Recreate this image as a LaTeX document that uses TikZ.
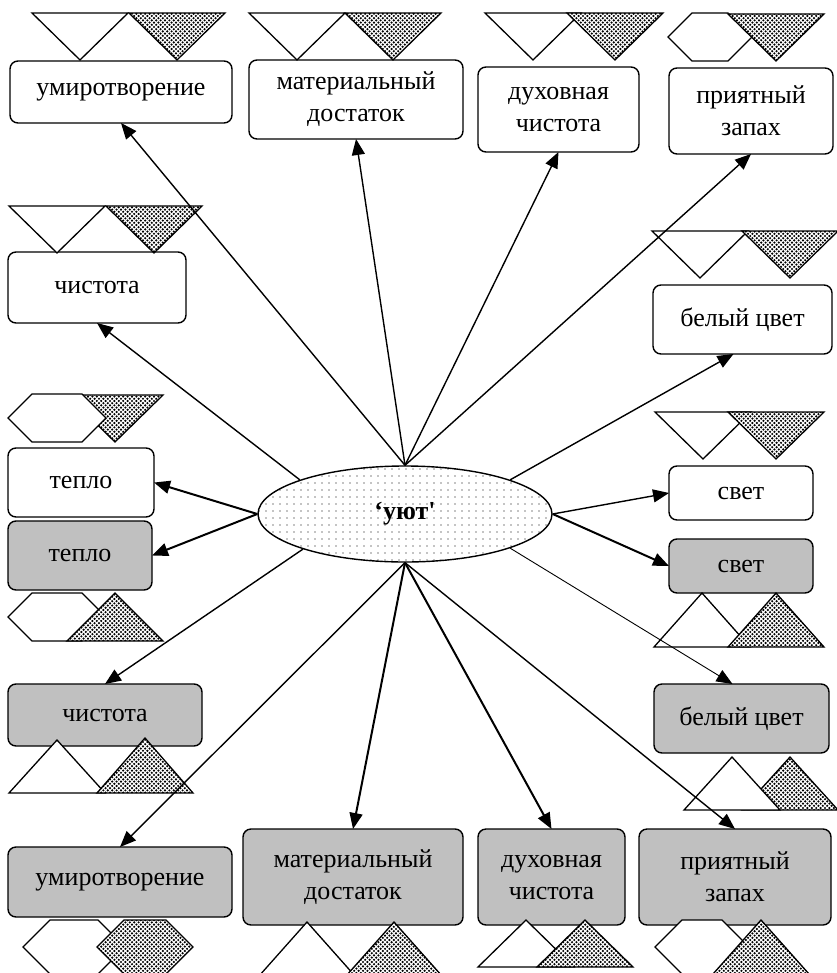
\documentclass[tikz,border=0pt]{standalone}
\usepackage{fontspec}
\setmainfont{Liberation Serif}
\usetikzlibrary{arrows.meta,shapes.geometric,patterns}

\definecolor{boxgray}{RGB}{192,192,192}

% fine dots for the ellipse, thick dots for the marks
\pgfdeclarepatternformonly{sparsedots}{\pgfqpoint{-1pt}{-1pt}}{\pgfqpoint{1pt}{1pt}}{\pgfqpoint{3.5pt}{3.5pt}}%
{\pgfpathcircle{\pgfpointorigin}{0.35pt}\pgfusepath{fill}}
\pgfdeclarepatternformonly{densedots}{\pgfqpoint{-1pt}{-1pt}}{\pgfqpoint{2.2pt}{2.2pt}}{\pgfqpoint{2.2pt}{2.2pt}}%
{\pgfpathcircle{\pgfpointorigin}{0.6pt}\pgfpathcircle{\pgfqpoint{1.1pt}{1.1pt}}{0.6pt}\pgfusepath{fill}}

\tikzset{wbox/.style={draw, fill=white, rounded corners=4pt, line width=0.7pt, align=center,
  inner sep=0pt, outer sep=0pt, font=\fontsize{13}{16}\selectfont},
gbox/.style={wbox, fill=boxgray},
blank/.style={draw, fill=white, line width=0.65pt},
speckle/.style={draw, line width=0.65pt, preaction={fill=white}, pattern=densedots},
link/.style={line width=0.7pt},
thicklink/.style={line width=1pt},
thinlink/.style={line width=0.45pt}}

\begin{document}
\begin{tikzpicture}[x=0.5pt, y=-0.5pt, >={Triangle[length=8pt,width=6.5pt]}]

\useasboundingbox (0,0) rectangle (836,973);

\node[ellipse, draw, line width=0.7pt, minimum width=147pt, minimum height=48pt, inner sep=0pt,
  preaction={fill=white}, pattern=sparsedots, font=\fontsize{13}{16}\selectfont\bfseries]
  (uyut) at (405,514) {\raisebox{3pt}{‘уют\textquotesingle}};

\node[wbox, minimum width=111pt, minimum height=31pt] (umirW) at (121,92) {умиротворение};
\node[wbox, minimum width=107pt, minimum height=39.5pt] (matW) at (356,99.5) {материальный\\достаток};
\node[wbox, minimum width=80.5pt, minimum height=42.5pt] (duhW) at (558.5,109.5) {духовная\\чистота};
\node[wbox, minimum width=82pt, minimum height=43pt] (zapW) at (751,111) {приятный\\запах};
\node[wbox, minimum width=89pt, minimum height=35.5pt] (chistW) at (97,287.5) {чистота};
\node[wbox, minimum width=73pt, minimum height=34.5pt] (teplW) at (81,482.5) {тепло};
\node[wbox, minimum width=89.5pt, minimum height=34.5pt] (belW) at (742.5,319.5) {белый цвет};
\node[wbox, minimum width=72pt, minimum height=27pt] (svetW) at (741,493) {свет};

\node[gbox, minimum width=72pt, minimum height=34.5pt] (teplG) at (80,555.5) {тепло};
\node[gbox, minimum width=97pt, minimum height=31pt] (chistG) at (105,715) {чистота};
\node[gbox, minimum width=112pt, minimum height=35pt] (umirG) at (120,882) {умиротворение};
\node[gbox, minimum width=110pt, minimum height=48pt] (matG) at (353,877) {материальный\\достаток};
\node[gbox, minimum width=73.5pt, minimum height=48pt] (duhG) at (551.5,877) {духовная\\чистота};
\node[gbox, minimum width=96pt, minimum height=48pt] (zapG) at (735,877) {приятный\\запах};
\node[gbox, minimum width=72pt, minimum height=27pt] (svetG) at (741,566) {свет};
\node[gbox, minimum width=87.5pt, minimum height=34.5pt] (belG) at (741.5,718.5) {белый цвет};

% white marks
\foreach \ax/\ay in {80/60,297/60,533/60,57/253,700/278,703/459}
    \draw[blank] (\ax-48,\ay-47) -- (\ax+48,\ay-47) -- (\ax,\ay) -- cycle;
\foreach \ax/\ay/\by in {57/740/793,702/593/647,307/922/976,526/920/967}
    \draw[blank] (\ax-48,\by) -- (\ax+48,\by) -- (\ax,\ay) -- cycle;
\foreach \cx/\cy/\hw/\hh in {710/37/42/24,57/617/49/24,74/947/51/27,702/947/47/27}
    \draw[blank] (\cx-\hw,\cy) -- (\cx-\hw+\hh,\cy-\hh) -- (\cx+\hw-\hh,\cy-\hh) -- (\cx+\hw,\cy)
      -- (\cx+\hw-\hh,\cy+\hh) -- (\cx-\hw+\hh,\cy+\hh) -- cycle;

% dotted marks
\foreach \ax/\ay in {177/60,393/60,615/60,776/61,154/253,115/442,790/278,776/459}
    \draw[speckle] (\ax-48,\ay-47) -- (\ax+48,\ay-47) -- (\ax,\ay) -- cycle;
\foreach \ax/\ay/\by in {115/593/641,145/738/793,776/593/647,394/922/976,585/920/967,761/920/974,790/757/810}
    \draw[speckle] (\ax-48,\by) -- (\ax+48,\by) -- (\ax,\ay) -- cycle;
\foreach \cx/\cy/\hw/\hh in {145/947/48/27}
    \draw[speckle] (\cx-\hw,\cy) -- (\cx-\hw+\hh,\cy-\hh) -- (\cx+\hw-\hh,\cy-\hh) -- (\cx+\hw,\cy)
      -- (\cx+\hw-\hh,\cy+\hh) -- (\cx-\hw+\hh,\cy+\hh) -- cycle;

% these two white marks lie over their dotted neighbour
\draw[blank] (8,418) -- (32,394) -- (82,394) -- (106,418) -- (82,442) -- (32,442) -- cycle;
\draw[blank] (684,810) -- (780,810) -- (732,757) -- cycle;

\draw[link,->] (uyut.north) -- (umirW.south);
\draw[link,->] (uyut.north) -- (matW.south);
\draw[link,->] (uyut.north) -- (duhW.south);
\draw[link,->] (uyut.north) -- (zapW.south);
\draw[link,->] (uyut.162) -- (chistW.south);
\draw[link,->] (uyut.18) -- ([xshift=-4.5pt]belW.south);
\draw[thicklink,->] (uyut.west) -- (teplW.east);
\draw[thicklink,->] (uyut.west) -- (teplG.east);
\draw[link,->] (uyut.east) -- (svetW.west);
\draw[thicklink,->] (uyut.east) -- (svetG.west);
\draw[link,->] (uyut.199) -- (chistG.north);
\draw[thinlink,->] (uyut.342) -- ([xshift=-4.5pt]belG.north);
\draw[link,->] (uyut.south) -- (umirG.north);
\draw[thicklink,->] (uyut.south) -- (matG.north);
\draw[thicklink,->] (uyut.south) -- (duhG.north);
\draw[link,->] (uyut.south) -- (zapG.north);

\end{tikzpicture}
\end{document}
